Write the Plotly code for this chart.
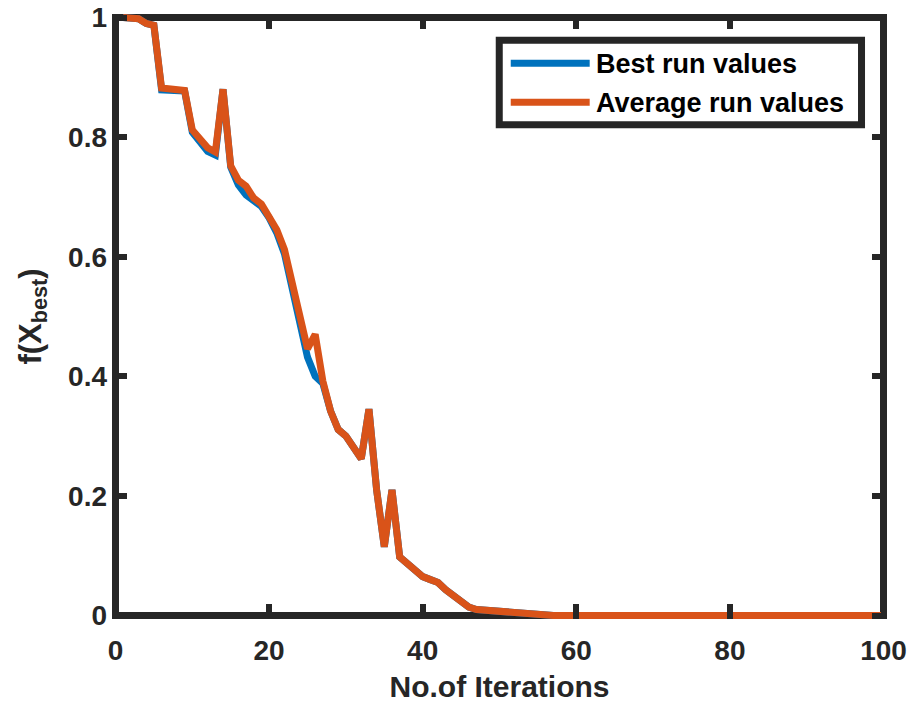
import plotly.graph_objects as go

# Convergence history over 100 iterations
iterations = list(range(1, 101))

best_run = [
    1.000, 1.000, 0.998, 0.990, 0.987, 0.879, 0.879, 0.878, 0.877, 0.808,
    0.790, 0.776, 0.770, 0.880, 0.750, 0.720, 0.703, 0.692, 0.684, 0.665,
    0.640, 0.605, 0.545, 0.487, 0.432, 0.400, 0.388, 0.342, 0.311, 0.300,
    0.281, 0.262, 0.345, 0.210, 0.115, 0.210, 0.098, 0.088, 0.076, 0.065,
    0.060, 0.055, 0.043, 0.034, 0.024, 0.014, 0.010, 0.009, 0.008, 0.007,
    0.005, 0.004, 0.003, 0.001, 0.000, 0.000, 0.000, 0.000, 0.000, 0.000,
    0.000, 0.000, 0.000, 0.000, 0.000, 0.000, 0.000, 0.000, 0.000, 0.000,
    0.000, 0.000, 0.000, 0.000, 0.000, 0.000, 0.000, 0.000, 0.000, 0.000,
    0.000, 0.000, 0.000, 0.000, 0.000, 0.000, 0.000, 0.000, 0.000, 0.000,
    0.000, 0.000, 0.000, 0.000, 0.000, 0.000, 0.000, 0.000, 0.000, 0.000,
]

average_run = [
    1.000, 1.000, 0.998, 0.990, 0.987, 0.882, 0.880, 0.879, 0.878, 0.812,
    0.795, 0.782, 0.775, 0.880, 0.752, 0.728, 0.718, 0.698, 0.688, 0.668,
    0.645, 0.612, 0.556, 0.500, 0.446, 0.470, 0.392, 0.342, 0.311, 0.300,
    0.281, 0.262, 0.345, 0.210, 0.115, 0.210, 0.098, 0.088, 0.076, 0.065,
    0.060, 0.055, 0.043, 0.034, 0.024, 0.014, 0.010, 0.009, 0.008, 0.007,
    0.005, 0.004, 0.003, 0.001, 0.000, 0.000, 0.000, 0.000, 0.000, 0.000,
    0.000, 0.000, 0.000, 0.000, 0.000, 0.000, 0.000, 0.000, 0.000, 0.000,
    0.000, 0.000, 0.000, 0.000, 0.000, 0.000, 0.000, 0.000, 0.000, 0.000,
    0.000, 0.000, 0.000, 0.000, 0.000, 0.000, 0.000, 0.000, 0.000, 0.000,
    0.000, 0.000, 0.000, 0.000, 0.000, 0.000, 0.000, 0.000, 0.000, 0.000,
]

series_names = ["Best run values", "Average run values"]
x_ticks = [0, 20, 40, 60, 80, 100]
y_ticks = [0, 0.2, 0.4, 0.6, 0.8, 1]
y_tick_text = ["0", "0.2", "0.4", "0.6", "0.8", "1"]

BLUE = "#0072BD"
ORANGE = "#D95319"
DARK = "#262626"
FONT = "Liberation Sans, Arial, sans-serif"
LW = 7
FRAME_W = 7

W, H = 916, 709
ML, MR, MT, MB = 112, 28.5, 14.3, 90
PW = W - ML - MR
PH = H - MT - MB
# pad the ranges by half the frame width so lines on the limits stay visible
xpad = (FRAME_W / 2) / (PW - FRAME_W) * 100
ypad = (FRAME_W / 2) / (PH - FRAME_W) * 1

fig = go.Figure()
fig.add_trace(go.Scatter(x=iterations, y=best_run, mode="lines",
                         line=dict(color=BLUE, width=LW), name=series_names[0],
                         showlegend=False))
fig.add_trace(go.Scatter(x=iterations, y=average_run, mode="lines",
                         line=dict(color=ORANGE, width=LW), name=series_names[1],
                         showlegend=False))

# box around the axes
fig.add_shape(type="rect", xref="x", yref="y", x0=0, x1=100, y0=0, y1=1,
              line=dict(color=DARK, width=FRAME_W), layer="below")


def px_x(p):
    return (p - ML) / PW


def px_y(p):
    return (H - MB - p) / PH


# legend box drawn in pixel-based paper coordinates
fig.add_shape(type="rect", xref="paper", yref="paper",
              x0=px_x(499.5), x1=px_x(862), y0=px_y(125), y1=px_y(40.5),
              line=dict(color=DARK, width=FRAME_W), fillcolor="white", layer="above")
legend_rows = [(63.5, BLUE, series_names[0]), (102.5, ORANGE, series_names[1])]
for yy, col, label in legend_rows:
    fig.add_shape(type="line", xref="paper", yref="paper",
                  x0=px_x(511), x1=px_x(590), y0=px_y(yy), y1=px_y(yy),
                  line=dict(color=col, width=LW), layer="above")
    fig.add_annotation(xref="paper", yref="paper", x=px_x(594), y=px_y(yy + 1),
                       xanchor="left", yanchor="middle", showarrow=False,
                       text=label, font=dict(family=FONT, size=27, color="black",
                                             weight="bold"))

axis_common = dict(
    showline=False, showgrid=False, zeroline=False, automargin=False,
    ticks="inside", ticklen=15, tickwidth=6, tickcolor=DARK, mirror="ticks",
    tickfont=dict(family=FONT, size=28, color=DARK, weight="bold"),
)

fig.update_xaxes(range=[-xpad, 100 + xpad], tickvals=x_ticks,
                 ticklabelstandoff=12,
                 title=dict(text="No.of Iterations", standoff=10,
                            font=dict(family=FONT, size=30, color=DARK, weight="bold")),
                 **axis_common)
fig.update_yaxes(range=[-ypad, 1 + ypad], tickvals=y_ticks, ticktext=y_tick_text,
                 ticklabelstandoff=4,
                 title=dict(text="f(X<sub>best</sub>)", standoff=17,
                            font=dict(family=FONT, size=31, color=DARK, weight="bold")),
                 **axis_common)

fig.update_layout(
    width=W, height=H,
    margin=dict(l=ML, r=MR, t=MT, b=MB, pad=0),
    paper_bgcolor="white", plot_bgcolor="white",
    showlegend=False,
)

fig.write_html("out.html")
